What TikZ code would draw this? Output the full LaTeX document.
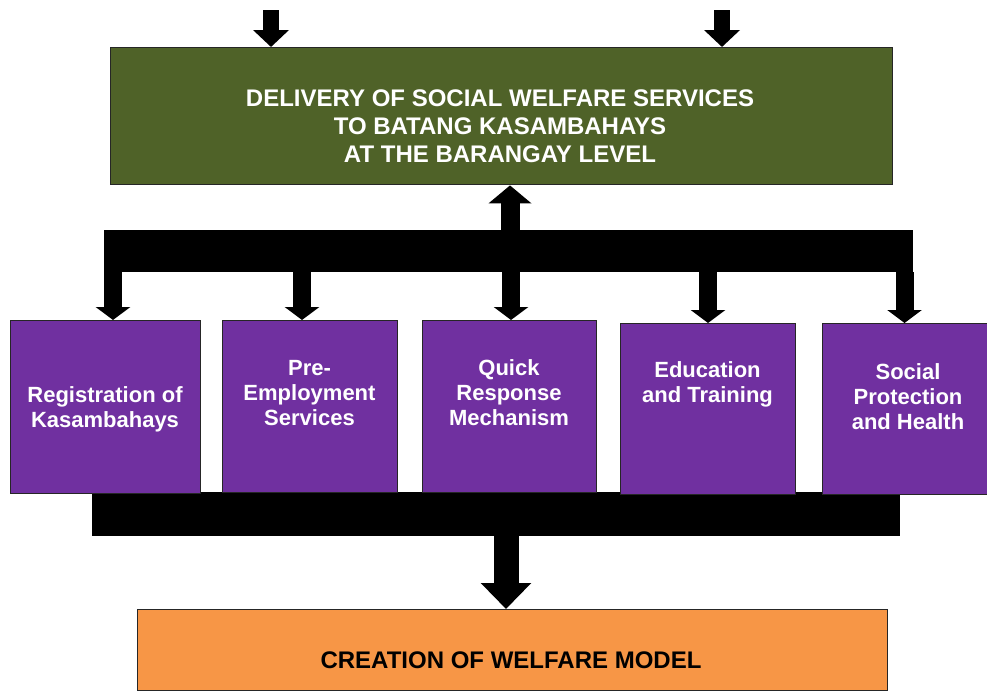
\documentclass[tikz,border=0pt]{standalone}
\usepackage{fontspec}
\setmainfont{Liberation Sans}
\usetikzlibrary{arrows.meta}
\definecolor{greenfill}{HTML}{4F6228}
\definecolor{purplefill}{HTML}{7030A0}
\definecolor{orangefill}{HTML}{F79646}
\begin{document}
\begin{tikzpicture}[x=1pt,y=-1pt,
  box/.style={draw=black!85, line width=1.4pt, anchor=north west, inner sep=0pt},
  greenbox/.style={box, fill=greenfill},
  purplebox/.style={box, fill=purplefill},
  orangebox/.style={box, fill=orangefill},
  barbox/.style={fill=black, anchor=north west, inner sep=0pt},
  headtext/.style={text=white, font=\bfseries\fontsize{24pt}{28pt}\selectfont, align=center},
  itemtext/.style={text=white, font=\bfseries\fontsize{22pt}{25pt}\selectfont, align=center},
  modeltext/.style={text=black, font=\bfseries\fontsize{24pt}{28pt}\selectfont, align=center},
  feedarrow/.style={draw, line width=18pt, -{Triangle[width=34pt,length=13pt]}},
  inarrow/.style={draw, line width=16pt, -{Triangle[width=35pt,length=17pt]}},
  uparrow/.style={draw, line width=19pt, -{Triangle[width=42pt,length=18pt]}},
  outarrow/.style={draw, line width=25pt, -{Triangle[width=49pt,length=26pt]}}
]
\useasboundingbox (0,0) rectangle (987,691);
\clip (0,0) rectangle (987,691);

% main service box
\node[greenbox, minimum width=782pt, minimum height=137pt] (delivery) at (110,47) {};
\node[headtext] (deliverytext) at (500,126.5)
  {DELIVERY OF SOCIAL WELFARE SERVICES\\TO BATANG KASAMBAHAYS\\AT THE BARANGAY LEVEL};

% distribution and collection bars
\node[barbox, minimum width=809pt, minimum height=42pt] (topbar) at (104,230) {};
\node[barbox, minimum width=808pt, minimum height=44pt] (bottombar) at (92,492) {};

% service components
\node[purplebox, minimum width=190pt, minimum height=173pt] (reg) at (10,320) {};
\node[purplebox, minimum width=175pt, minimum height=172pt] (pre) at (222,320) {};
\node[purplebox, minimum width=174pt, minimum height=172pt] (quick) at (422,320) {};
\node[purplebox, minimum width=175pt, minimum height=171pt] (edu) at (620,323) {};
\node[purplebox, minimum width=172pt, minimum height=171pt] (social) at (822,323) {};

\node[itemtext] (regtext) at (105,409.5) {Registration of\\Kasambahays};
\node[itemtext] (pretext) at (309.5,393) {Pre-\\Employment\\Services};
\node[itemtext] (quicktext) at (509,393) {Quick\\Response\\Mechanism};
\node[itemtext] (edutext) at (707.5,384.5) {Education\\and Training};
\node[itemtext] (socialtext) at (908,397) {Social\\Protection\\and Health};

% resulting model
\node[orangebox, minimum width=750pt, minimum height=81pt] (model) at (137,609) {};
\node[modeltext] (modeltext) at (511,660) {CREATION OF WELFARE MODEL};

% arrow positions
\coordinate (inA) at (271,10);
\coordinate (inB) at (722,10);
\coordinate (upx) at (510,0);
\coordinate (fa) at (113,0);
\coordinate (fb) at (302,0);
\coordinate (fc) at (511,0);
\coordinate (fd) at (708,0);
\coordinate (fe) at (904.5,0);
\coordinate (outx) at (506,0);

% inputs into the service box
\path[inarrow] (inA) -- (inA |- delivery.north);
\path[inarrow] (inB) -- (inB |- delivery.north);

% feedback to the service box
\path[uparrow] (topbar.north -| upx) -- (delivery.south -| upx);

% distribution to the components
\path[feedarrow] (topbar.south -| fa) -- (reg.north -| fa);
\path[feedarrow] (topbar.south -| fb) -- (pre.north -| fb);
\path[feedarrow] (topbar.south -| fc) -- (quick.north -| fc);
\path[feedarrow] (topbar.south -| fd) -- (edu.north -| fd);
\path[feedarrow] (topbar.south -| fe) -- (social.north -| fe);

% collection into the model
\path[outarrow] (bottombar.south -| outx) -- (model.north -| outx);
\end{tikzpicture}
\end{document}
